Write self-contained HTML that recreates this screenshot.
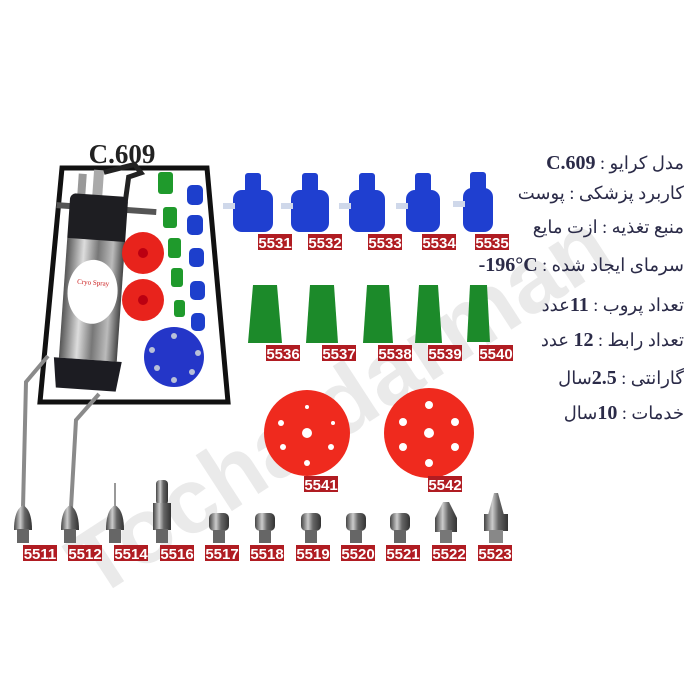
<!DOCTYPE html>
<html><head><meta charset="utf-8"><style>
html,body{margin:0;padding:0;background:#fff;width:700px;height:700px;overflow:hidden;position:relative}
svg{display:block;position:absolute;left:0;top:0}
.lbl{font-family:"Liberation Sans",sans-serif;font-weight:bold;font-size:15px;fill:#fff}
.fa{position:absolute;right:16px;direction:rtl;text-align:right;white-space:nowrap;font-family:"Liberation Serif","Noto Sans CJK SC",serif;font-size:18px;line-height:22px;color:#2b2b48}
.fa b{font-family:"Liberation Serif",serif;font-size:20px}
</style></head><body>
<svg width="700" height="700" viewBox="0 0 700 700" xmlns="http://www.w3.org/2000/svg">
<defs>
<linearGradient id="steel" x1="0" x2="1"><stop offset="0" stop-color="#555"/><stop offset=".3" stop-color="#ddd"/><stop offset=".55" stop-color="#777"/><stop offset=".8" stop-color="#bbb"/><stop offset="1" stop-color="#444"/></linearGradient>
<linearGradient id="nut" x1="0" x2="1"><stop offset="0" stop-color="#444"/><stop offset=".35" stop-color="#ccc"/><stop offset=".6" stop-color="#666"/><stop offset="1" stop-color="#333"/></linearGradient>
<g id="lb"><rect width="34" height="16" fill="#b01c22"/></g>
</defs>
<text x="0" y="0" transform="translate(95,600) rotate(-33)" font-family="Liberation Sans,sans-serif" font-weight="bold" font-size="92" fill="#000" opacity="0.08">Tochaldarman</text>

<text x="122" y="163" text-anchor="middle" font-family="Liberation Serif,serif" font-weight="bold" font-size="27" fill="#222">C.609</text>
<polygon points="62,168 207,168 228,402 40,402" fill="#fff" stroke="#111" stroke-width="5"/>
<g transform="rotate(4 95 300)">
<rect x="70" y="175" width="8" height="22" fill="#999"/><rect x="85" y="170" width="10" height="28" fill="#aaa"/>
<path d="M95 172 L125 162 L132 170 L120 175 L118 205" stroke="#222" stroke-width="5" fill="none"/>
<rect x="50" y="205" width="100" height="6" fill="#555"/>
<rect x="63" y="195" width="58" height="50" rx="6" fill="#1e1e22"/>
<rect x="63" y="240" width="58" height="120" fill="url(#steel)"/>
<ellipse cx="92" cy="292" rx="25" ry="32" fill="#fff"/>
<text x="92" y="285" text-anchor="middle" font-family="Liberation Serif,serif" font-size="7" fill="#c22">Cryo Spray</text>
<path d="M58 360 L126 360 L122 390 L62 390 Z" fill="#1c1c22"/>
</g>
<circle cx="143" cy="253" r="21" fill="#e8231c"/><circle cx="143" cy="253" r="5" fill="#b01" />
<circle cx="143" cy="300" r="21" fill="#e8231c"/><circle cx="143" cy="300" r="5" fill="#b01"/>
<circle cx="174" cy="357" r="30" fill="#2436c8"/>
<g fill="#b8c0d8"><circle cx="152" cy="350" r="3"/><circle cx="157" cy="368" r="3"/><circle cx="174" cy="380" r="3"/><circle cx="192" cy="372" r="3"/><circle cx="198" cy="353" r="3"/><circle cx="174" cy="336" r="3"/></g>
<g fill="#1f9a2c"><rect x="158" y="172" width="15" height="22" rx="3"/><rect x="163" y="207" width="14" height="21" rx="3"/><rect x="168" y="238" width="13" height="20" rx="3"/><rect x="171" y="268" width="12" height="19" rx="3"/><rect x="174" y="300" width="11" height="17" rx="3"/></g>
<g fill="#1d3fcc"><rect x="187" y="185" width="16" height="20" rx="5"/><rect x="187" y="215" width="16" height="20" rx="5"/><rect x="189" y="248" width="15" height="19" rx="5"/><rect x="190" y="281" width="15" height="19" rx="5"/><rect x="191" y="313" width="14" height="18" rx="5"/></g>

<polyline points="48,356 26,382 23,508" stroke="#8a8a8a" stroke-width="4" fill="none"/>
<polyline points="99,394 76,420 71,508" stroke="#8a8a8a" stroke-width="4" fill="none"/>

<g fill="#1f3fd0">
<g transform="translate(253,0)"><rect x="-8" y="173" width="16" height="20" rx="3"/><rect x="-20" y="190" width="40" height="42" rx="9"/><rect x="-30" y="203" width="12" height="6" fill="#cfd8ea"/></g>
<g transform="translate(310,0)"><rect x="-8" y="173" width="16" height="20" rx="3"/><rect x="-19" y="190" width="38" height="42" rx="9"/><rect x="-29" y="203" width="12" height="6" fill="#cfd8ea"/></g>
<g transform="translate(367,0)"><rect x="-8" y="173" width="16" height="20" rx="3"/><rect x="-18" y="190" width="36" height="42" rx="9"/><rect x="-28" y="203" width="12" height="6" fill="#cfd8ea"/></g>
<g transform="translate(423,0)"><rect x="-8" y="173" width="16" height="20" rx="3"/><rect x="-17" y="190" width="34" height="42" rx="9"/><rect x="-27" y="203" width="12" height="6" fill="#cfd8ea"/></g>
<g transform="translate(478,0)"><rect x="-8" y="172" width="16" height="20" rx="3"/><rect x="-15" y="188" width="30" height="44" rx="9"/><rect x="-25" y="201" width="12" height="6" fill="#cfd8ea"/></g>
</g>
<g fill="#1c8a2a">
<path d="M253 285 h24 l5 58 h-34 z" /><path d="M310 285 h24 l4 58 h-32 z"/><path d="M367 285 h22 l4 58 h-30 z"/><path d="M419 285 h19 l4 58 h-27 z"/><path d="M470 285 h17 l3 57 h-23 z"/>
</g>
<circle cx="307" cy="433" r="43" fill="#ef2a1e"/>
<circle cx="429" cy="433" r="45" fill="#ef2a1e"/>
<g fill="#fff"><circle cx="307" cy="433" r="5"/><circle cx="307" cy="407" r="2"/><circle cx="281" cy="423" r="3"/><circle cx="333" cy="423" r="2"/><circle cx="283" cy="447" r="3"/><circle cx="331" cy="447" r="3"/><circle cx="307" cy="463" r="3"/>
<circle cx="429" cy="433" r="5"/><circle cx="429" cy="405" r="4"/><circle cx="403" cy="422" r="4"/><circle cx="455" cy="422" r="4"/><circle cx="403" cy="447" r="4"/><circle cx="455" cy="447" r="4"/><circle cx="429" cy="463" r="4"/></g>

<g>
<g transform="translate(23,0)"><path d="M-9 530 Q-9 510 0 505 Q9 510 9 530 z" fill="url(#nut)"/><rect x="-6" y="529" width="12" height="14" fill="#666"/></g>
<g transform="translate(70,0)"><path d="M-9 530 Q-9 510 0 505 Q9 510 9 530 z" fill="url(#nut)"/><rect x="-6" y="529" width="12" height="14" fill="#666"/></g>
<g transform="translate(115,0)"><line x1="0" y1="483" x2="0" y2="507" stroke="#777" stroke-width="1.5"/><path d="M-9 530 Q-9 510 0 505 Q9 510 9 530 z" fill="url(#nut)"/><rect x="-6" y="529" width="12" height="14" fill="#666"/></g>
<g transform="translate(162,0)"><rect x="-6" y="480" width="12" height="25" rx="4" fill="url(#nut)"/><rect x="-9" y="503" width="18" height="27" fill="url(#nut)"/><rect x="-6" y="529" width="12" height="14" fill="#666"/></g>
<g transform="translate(219,0)"><rect x="-10" y="513" width="20" height="18" rx="5" fill="url(#nut)"/><rect x="-6" y="530" width="12" height="13" fill="#666"/></g>
<g transform="translate(265,0)"><rect x="-10" y="513" width="20" height="18" rx="5" fill="url(#nut)"/><rect x="-6" y="530" width="12" height="13" fill="#666"/></g>
<g transform="translate(311,0)"><rect x="-10" y="513" width="20" height="18" rx="5" fill="url(#nut)"/><rect x="-6" y="530" width="12" height="13" fill="#666"/></g>
<g transform="translate(356,0)"><rect x="-10" y="513" width="20" height="18" rx="5" fill="url(#nut)"/><rect x="-6" y="530" width="12" height="13" fill="#666"/></g>
<g transform="translate(400,0)"><rect x="-10" y="513" width="20" height="18" rx="5" fill="url(#nut)"/><rect x="-6" y="530" width="12" height="13" fill="#666"/></g>
<g transform="translate(446,0)"><path d="M-3 502 h6 l8 16 v14 h-22 v-14 z" fill="url(#nut)"/><rect x="-6" y="530" width="12" height="13" fill="#777"/></g>
<g transform="translate(496,0)"><path d="M-2 493 h4 l10 37 h-24 z" fill="url(#nut)"/><rect x="-12" y="514" width="24" height="17" fill="url(#nut)"/><rect x="-7" y="530" width="14" height="13" fill="#888"/></g>
</g>

<g>
<use href="#lb" x="258" y="234"/><use href="#lb" x="308" y="234"/><use href="#lb" x="368" y="234"/><use href="#lb" x="422" y="234"/><use href="#lb" x="475" y="234"/>
<use href="#lb" x="266" y="345"/><use href="#lb" x="322" y="345"/><use href="#lb" x="378" y="345"/><use href="#lb" x="428" y="345"/><use href="#lb" x="479" y="345"/>
<use href="#lb" x="304" y="476"/><use href="#lb" x="428" y="476"/>
<use href="#lb" x="23" y="545"/><use href="#lb" x="68" y="545"/><use href="#lb" x="114" y="545"/><use href="#lb" x="160" y="545"/><use href="#lb" x="205" y="545"/><use href="#lb" x="250" y="545"/><use href="#lb" x="296" y="545"/><use href="#lb" x="341" y="545"/><use href="#lb" x="386" y="545"/><use href="#lb" x="432" y="545"/><use href="#lb" x="478" y="545"/>
</g>
<g class="lbl" text-anchor="middle">
<text x="275" y="248">5531</text><text x="325" y="248">5532</text><text x="385" y="248">5533</text><text x="439" y="248">5534</text><text x="492" y="248">5535</text>
<text x="283" y="359">5536</text><text x="339" y="359">5537</text><text x="395" y="359">5538</text><text x="445" y="359">5539</text><text x="496" y="359">5540</text>
<text x="321" y="490">5541</text><text x="445" y="490">5542</text>
<text x="40" y="559">5511</text><text x="85" y="559">5512</text><text x="131" y="559">5514</text><text x="177" y="559">5516</text><text x="222" y="559">5517</text><text x="267" y="559">5518</text><text x="313" y="559">5519</text><text x="358" y="559">5520</text><text x="403" y="559">5521</text><text x="449" y="559">5522</text><text x="495" y="559">5523</text>
</g>
</svg>
<div class="fa" style="top:152px">مدل کرایو : <b>C.609</b></div>
<div class="fa" style="top:182px">کاربرد پزشکی : پوست</div>
<div class="fa" style="top:216px">منبع تغذیه :  ازت مایع</div>
<div class="fa" style="top:254px">سرمای ایجاد شده : <b dir="ltr">-196°C</b></div>
<div class="fa" style="top:294px">تعداد پروب : <b>11</b>عدد</div>
<div class="fa" style="top:329px">تعداد رابط : <b>12</b> عدد</div>
<div class="fa" style="top:367px">گارانتی : <b>2.5</b>سال</div>
<div class="fa" style="top:402px">خدمات : <b>10</b>سال</div>
</body></html>
